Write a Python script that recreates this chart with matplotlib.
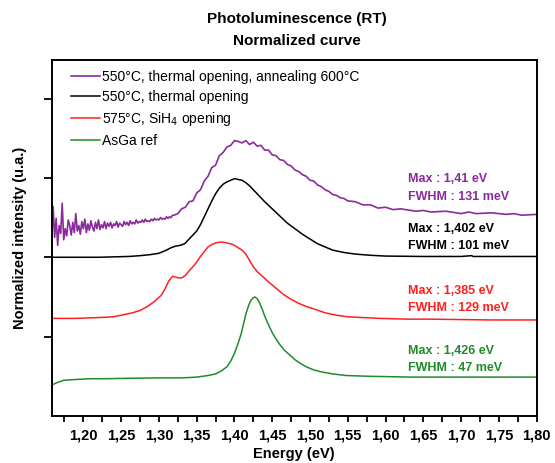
import matplotlib
matplotlib.use('Agg')
import matplotlib.pyplot as plt

plt.rcParams['font.family'] = ['Liberation Sans', 'DejaVu Sans']

# --- data ---
energy_ticks = [1.20, 1.25, 1.30, 1.35, 1.40, 1.45, 1.50, 1.55, 1.60, 1.65, 1.70, 1.75, 1.80]
tick_labels = ['1,20', '1,25', '1,30', '1,35', '1,40', '1,45', '1,50', '1,55', '1,60',
               '1,65', '1,70', '1,75', '1,80']
minor_ticks = [1.175, 1.225, 1.275, 1.325, 1.375, 1.425, 1.475, 1.525, 1.575, 1.625,
               1.675, 1.725, 1.775]

# 550°C, thermal opening, annealing 600°C (noisy low-energy side)
purple_e = [1.158, 1.160, 1.162, 1.164, 1.166, 1.168, 1.170, 1.172, 1.174, 1.176,
            1.178, 1.180, 1.182, 1.184, 1.186, 1.188, 1.190, 1.192, 1.194, 1.196,
            1.198, 1.200, 1.202, 1.204, 1.206, 1.208, 1.210, 1.212, 1.214, 1.216,
            1.218, 1.220, 1.222, 1.224, 1.226, 1.228, 1.230, 1.232, 1.234, 1.236,
            1.238, 1.240, 1.242, 1.244, 1.246, 1.248, 1.250, 1.252, 1.254, 1.256,
            1.258, 1.260, 1.262, 1.264, 1.266, 1.268, 1.270, 1.272, 1.274, 1.276,
            1.278, 1.280, 1.282, 1.284, 1.286, 1.288, 1.290, 1.292, 1.294, 1.296,
            1.298, 1.300, 1.302, 1.304, 1.306, 1.308, 1.310, 1.312, 1.314, 1.316,
            1.318,
            1.320, 1.325, 1.330, 1.335, 1.340, 1.345, 1.350, 1.355, 1.360, 1.365,
            1.370, 1.375, 1.380, 1.385, 1.390, 1.395, 1.400, 1.405, 1.410, 1.415,
            1.420, 1.425, 1.430, 1.435, 1.440, 1.445, 1.450, 1.455, 1.460, 1.465,
            1.470, 1.475, 1.480, 1.485, 1.490, 1.495, 1.500, 1.505, 1.510, 1.515,
            1.520, 1.525, 1.530, 1.535, 1.540, 1.545, 1.550, 1.560, 1.570, 1.580,
            1.590, 1.600, 1.610, 1.620, 1.640, 1.650, 1.660, 1.680, 1.700, 1.710,
            1.720, 1.740, 1.760, 1.770, 1.780, 1.800]
purple_i = [2.18, 2.64, 2.25, 2.49, 2.15, 2.40, 2.30, 2.68, 2.22, 2.36,
            2.27, 2.47, 2.40, 2.28, 2.44, 2.31, 2.55, 2.33, 2.40, 2.29,
            2.45, 2.36, 2.48, 2.31, 2.42, 2.34, 2.46, 2.38, 2.33, 2.44,
            2.36, 2.47, 2.35, 2.41, 2.37, 2.45, 2.36, 2.43, 2.39, 2.44,
            2.37, 2.42, 2.40, 2.45, 2.38, 2.43, 2.41, 2.39, 2.45, 2.41,
            2.44, 2.40, 2.46, 2.42, 2.44, 2.42, 2.47, 2.43, 2.45, 2.44,
            2.47, 2.44, 2.48, 2.45, 2.46, 2.45, 2.48, 2.46, 2.49, 2.47,
            2.48, 2.47, 2.50, 2.48, 2.49, 2.48, 2.51, 2.49, 2.51, 2.50,
            2.53,
            2.53, 2.55, 2.61, 2.63, 2.70, 2.71, 2.81, 2.85, 2.96, 3.02,
            3.13, 3.16, 3.28, 3.32, 3.39, 3.41, 3.47, 3.46, 3.44, 3.47,
            3.42, 3.45, 3.40, 3.41, 3.35, 3.35, 3.29, 3.28, 3.23, 3.22,
            3.17, 3.15, 3.10, 3.08, 3.04, 3.02, 2.97, 2.96, 2.91, 2.89,
            2.85, 2.83, 2.79, 2.78, 2.75, 2.74, 2.71, 2.70, 2.66, 2.66,
            2.62, 2.63, 2.60, 2.61, 2.58, 2.59, 2.57, 2.58, 2.55, 2.57,
            2.55, 2.56, 2.54, 2.55, 2.53, 2.54]

# 550°C, thermal opening
black_e = [1.158, 1.180, 1.200, 1.220, 1.240, 1.260, 1.275, 1.290, 1.300, 1.310,
           1.316, 1.322, 1.328, 1.334, 1.340, 1.345, 1.350, 1.355, 1.360, 1.365,
           1.370, 1.375, 1.380, 1.385, 1.390, 1.395, 1.400, 1.405, 1.410, 1.415,
           1.420, 1.425, 1.430, 1.440, 1.450, 1.460, 1.470, 1.480, 1.490, 1.500,
           1.510, 1.520, 1.530, 1.545, 1.560, 1.580, 1.600, 1.650, 1.700, 1.714,
           1.716, 1.750, 1.800]
black_i = [2.00, 2.00, 2.00, 2.00, 2.005, 2.01, 2.02, 2.035, 2.05, 2.09,
           2.12, 2.14, 2.15, 2.17, 2.23, 2.28, 2.33, 2.41, 2.51, 2.61,
           2.71, 2.80, 2.87, 2.92, 2.95, 2.97, 2.99, 2.98, 2.97, 2.94,
           2.90, 2.85, 2.80, 2.70, 2.61, 2.52, 2.43, 2.36, 2.29, 2.23,
           2.17, 2.13, 2.09, 2.06, 2.04, 2.025, 2.015, 2.01, 2.01, 2.02,
           2.01, 2.01, 2.01]

# 575°C, SiH4 opening
red_e = [1.158, 1.190, 1.220, 1.240, 1.255, 1.265, 1.275, 1.285, 1.295, 1.303,
         1.308, 1.313, 1.318, 1.322, 1.326, 1.330, 1.335, 1.340, 1.345, 1.350,
         1.355, 1.360, 1.365, 1.370, 1.375, 1.380, 1.385, 1.390, 1.395, 1.400,
         1.405, 1.410, 1.415, 1.420, 1.425, 1.430, 1.437, 1.445, 1.455, 1.465,
         1.475, 1.485, 1.495, 1.508, 1.520, 1.535, 1.550, 1.570, 1.592, 1.630,
         1.660, 1.700, 1.740, 1.800]
red_i = [1.23, 1.23, 1.24, 1.25, 1.28, 1.30, 1.33, 1.38, 1.45, 1.52,
         1.60, 1.70, 1.76, 1.75, 1.74, 1.74, 1.77, 1.83, 1.88, 1.94,
         2.01, 2.07, 2.13, 2.16, 2.18, 2.19, 2.19, 2.18, 2.17, 2.15,
         2.12, 2.09, 2.04, 1.96, 1.88, 1.82, 1.76, 1.69, 1.61, 1.53,
         1.47, 1.42, 1.38, 1.34, 1.30, 1.27, 1.25, 1.24, 1.23, 1.22,
         1.22, 1.215, 1.21, 1.21]

# AsGa ref
green_e = [1.158, 1.165, 1.174, 1.190, 1.210, 1.230, 1.260, 1.300, 1.330, 1.350,
           1.365, 1.375, 1.383, 1.390, 1.395, 1.400, 1.405, 1.409, 1.412, 1.415,
           1.419, 1.422, 1.425, 1.427, 1.430, 1.433, 1.437, 1.440, 1.445, 1.450,
           1.455, 1.460, 1.466, 1.473, 1.480, 1.486, 1.495, 1.505, 1.513, 1.530,
           1.548, 1.580, 1.636, 1.700, 1.800]
green_i = [0.39, 0.42, 0.45, 0.46, 0.47, 0.47, 0.475, 0.48, 0.48, 0.49,
           0.51, 0.53, 0.57, 0.62, 0.69, 0.79, 0.92, 1.04, 1.16, 1.28,
           1.40, 1.46, 1.49, 1.50, 1.48, 1.43, 1.34, 1.26, 1.15, 1.05,
           0.97, 0.90, 0.83, 0.77, 0.71, 0.67, 0.62, 0.58, 0.56, 0.53,
           0.51, 0.50, 0.49, 0.49, 0.49]

series = [
    ('550°C, thermal opening, annealing 600°C', purple_e, purple_i, '#8a2a9c',
     ['Max : 1,41 eV', 'FWHM : 131 meV'], 2.98, 1.2),
    ('550°C, thermal opening', black_e, black_i, '#000000',
     ['Max : 1,402 eV', 'FWHM : 101 meV'], 2.36, 1.1),
    ('575°C, SiH$_4$ opening', red_e, red_i, '#ff2020',
     ['Max : 1,385 eV', 'FWHM : 129 meV'], 1.58, 1.1),
    ('AsGa ref', green_e, green_i, '#1f8c2a',
     ['Max : 1,426 eV', 'FWHM : 47 meV'], 0.82, 1.1),
]


def main():
    fig = plt.figure(figsize=(5.55, 4.63), dpi=100)
    ax = fig.add_axes([0.093, 0.1015, 0.874, 0.768])

    for label, e, i, color, notes, note_y, lw in series:
        ax.plot(e, i, color=color, lw=lw, label=label)
        ax.text(1.630, note_y, notes[0], color=color, fontsize=9, fontweight='bold',
                va='center', ha='left')
        ax.text(1.630, note_y - 0.215, notes[1], color=color, fontsize=9,
                fontweight='bold', va='center', ha='left')

    ax.set_xlim(1.158, 1.80)
    ax.set_ylim(0, 4.48)
    ax.set_xticks(energy_ticks)
    ax.set_xticklabels(tick_labels)
    ax.set_xticks(minor_ticks, minor=True)
    ax.set_yticks([1, 2, 3, 4])
    ax.set_yticklabels([])
    for lab in ax.get_xticklabels():
        lab.set_fontweight('bold')
    ax.tick_params(axis='x', which='both', direction='out', length=4, width=1.3,
                   labelsize=10.5, pad=5)
    ax.tick_params(axis='y', direction='out', length=6, width=1.3)
    for sp in ax.spines.values():
        sp.set_linewidth(1.4)

    ax.set_xlabel('Energy (eV)', fontsize=10.5, fontweight='bold', labelpad=3)
    ax.set_ylabel('Normalized intensity (u.a.)', fontsize=10.5, fontweight='bold',
                  labelpad=8)

    ax.legend(loc='upper left', bbox_to_anchor=(0.02, 1.0), frameon=False,
              fontsize=10, handlelength=2.1, handletextpad=0.15, labelspacing=0.42,
              borderaxespad=0.3)

    fig.text(0.535, 0.960, 'Photoluminescence (RT)', ha='center', va='center',
             fontsize=11, fontweight='bold')
    fig.text(0.535, 0.911, 'Normalized curve', ha='center', va='center',
             fontsize=11, fontweight='bold')

    fig.savefig('out.png', dpi=100)


if __name__ == '__main__':
    main()
